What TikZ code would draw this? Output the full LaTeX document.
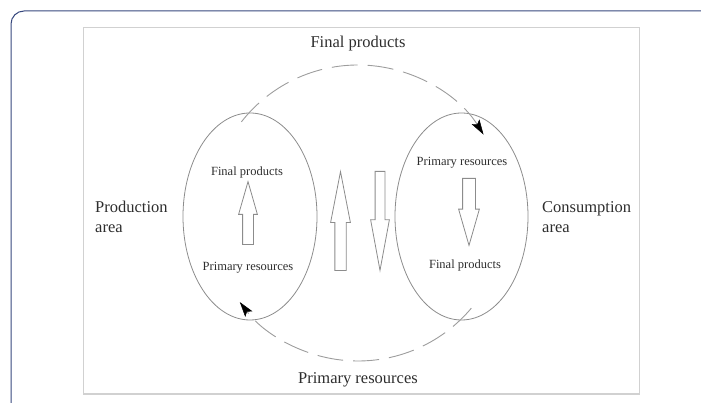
\documentclass[tikz,border=0pt]{standalone}
\usepackage{fontspec}
\setmainfont{Liberation Serif}
\usepackage{tikz}
\usetikzlibrary{shapes.geometric}
\usetikzlibrary{shapes.arrows}
\usetikzlibrary{arrows.meta}
\definecolor{framecol}{RGB}{55,72,126}
\definecolor{linecol}{RGB}{140,140,140}
\definecolor{textcol}{RGB}{45,45,45}

\begin{document}
\begin{tikzpicture}[x=1pt,y=1pt,text=textcol]
\tikzstyle{area} = [draw=linecol, line width=0.8pt, ellipse, inner sep=0];
\tikzstyle{biglabel} = [font=\fontsize{16.5}{20}\selectfont, align=left, inner sep=0];
\tikzstyle{smalllabel} = [font=\fontsize{12.5}{14}\selectfont, inner sep=0];
\tikzstyle{blockarrow} = [single arrow, draw=linecol, line width=0.8pt, fill=white, inner xsep=0, anchor=tail];
\tikzstyle{flow} = [draw=linecol!85, line width=0.9pt, dash pattern=on 26pt off 10pt,
  -{Stealth[length=15pt,width=9pt,inset=3pt,fill=black,line width=0.5pt,black]}];
\useasboundingbox (0,0) rectangle (701,403);
% frames
\draw[framecol, line width=1pt, rounded corners=13pt] (11,-20) -- (11,392) -- (730,392);
\draw[black!18, line width=1.2pt] (83.5,9) rectangle (639.5,375.5);
% areas
\node[area, minimum width=134, minimum height=207] (prod) at (250,186.5) {};
\node[area, minimum width=133, minimum height=207] (cons) at (461.5,186.5) {};
\coordinate (ctr) at (358,190);
% labels
\node[biglabel] (fpTop) at (358,359) {Final products};
\node[biglabel] (prBot) at (358,23) {Primary resources};
\node[biglabel, anchor=west] (prodLbl) at (95,186) {Production\\area};
\node[biglabel, anchor=west] (consLbl) at (542,186) {Consumption\\area};
\node[smalllabel] (prodFp) at (247,230) {Final products};
\node[smalllabel] (prodPr) at (248,135) {Primary resources};
\node[smalllabel] (consPr) at (462,240) {Primary resources};
\node[smalllabel] (consFp) at (465,138) {Final products};
% block arrows
\node[blockarrow, rotate=90, inner ysep=5, minimum height=63, single arrow head extend=4,
  single arrow tip angle=32] (upProd) at (248,158) {};
\node[blockarrow, rotate=90, inner ysep=5.25, minimum height=99, single arrow head extend=4.25,
  single arrow tip angle=22] (upMid) at (340.5,132) {};
\node[blockarrow, rotate=-90, inner ysep=4.5, minimum height=99, single arrow head extend=4.5,
  single arrow tip angle=21] (downMid) at (380,232) {};
\node[blockarrow, rotate=-90, inner ysep=6, minimum height=67, single arrow head extend=4,
  single arrow tip angle=32] (downCons) at (469,225) {};
% flows
\coordinate (fpStart) at ([shift={(142:148)}]ctr);
\coordinate (prStart) at ([shift={(-40:148)}]ctr);
\path[flow] (fpStart) arc[start angle=142, end angle=32, radius=148];
\path[flow] (prStart) arc[start angle=-40, end angle=-143, radius=148];
\end{tikzpicture}
\end{document}
